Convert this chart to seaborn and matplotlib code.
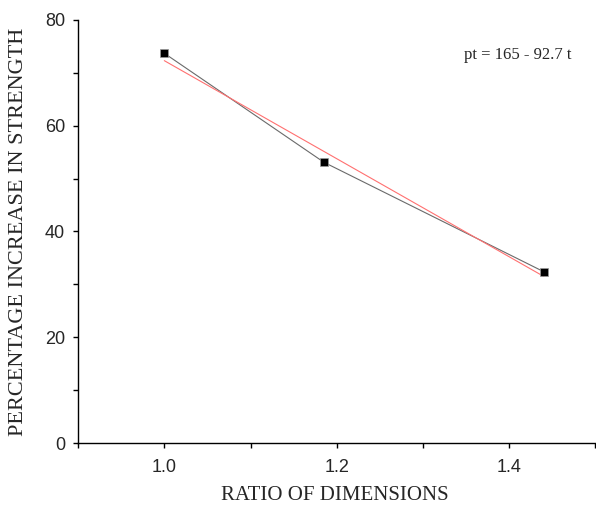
import numpy as np
import pandas as pd
import seaborn as sns
from matplotlib import pyplot as plt
from matplotlib.ticker import MultipleLocator

# data
ratio = [1.0, 1.185, 1.44]
increase = [73.7, 53.1, 32.4]
fit_a, fit_b = 165, -92.7

df = pd.DataFrame({"ratio": ratio, "increase": increase})
fit = pd.DataFrame({"ratio": [ratio[0], ratio[-1]]})
fit["increase"] = fit_a + fit_b * fit["ratio"]

sns.set_style("ticks")
plt.rcParams["font.family"] = ["Liberation Sans", "DejaVu Sans"]
plt.rcParams["xtick.direction"] = "out"
plt.rcParams["ytick.direction"] = "out"

fig = plt.figure(figsize=(5.96, 5.11), dpi=100)
ax = fig.add_axes([0.131, 0.133, 0.868, 0.828])

sns.lineplot(data=df, x="ratio", y="increase", color="#6a6a6a", linewidth=0.8, ax=ax)
sns.lineplot(data=fit, x="ratio", y="increase", color="#ff7070", linewidth=0.8, ax=ax)
sns.scatterplot(data=df, x="ratio", y="increase", marker="s", s=40, color="black",
                edgecolor="#999999", linewidth=0.5, zorder=5, ax=ax)

ax.set_xlim(0.9, 1.5)
ax.set_ylim(0, 80)
ax.xaxis.set_minor_locator(MultipleLocator(0.1))
ax.yaxis.set_major_locator(MultipleLocator(20))
ax.yaxis.set_minor_locator(MultipleLocator(10))
ax.set_xticks([1.0, 1.2, 1.4])
ax.tick_params(which="both", length=3.5, width=1, color="black")
ax.tick_params(axis="x", labelsize=13, pad=8)
ax.tick_params(axis="y", labelsize=13, pad=6)
sns.despine(ax=ax)
for s in ["left", "bottom"]:
    ax.spines[s].set_linewidth(1)
    ax.spines[s].set_color("black")

ax.set_xlabel("RATIO OF DIMENSIONS", family="Liberation Serif", fontsize=15, va="center")
ax.set_ylabel("PERCENTAGE INCREASE IN STRENGTH", family="Liberation Serif", fontsize=16, va="center")
ax.xaxis.set_label_coords(0.497, -0.125)
ax.yaxis.set_label_coords(-0.116, 0.5)
ax.text(1.348, 73.3, "pt = 165 - 92.7 t", family="Liberation Serif", fontsize=12, va="center")

fig.savefig("out.png", dpi=100)
